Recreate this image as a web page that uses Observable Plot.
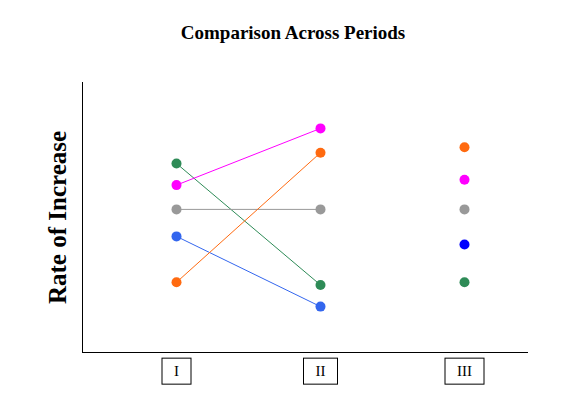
<!DOCTYPE html>
<html>
<head>
<meta charset="utf-8">
<script src="https://cdn.jsdelivr.net/npm/d3@7"></script>
<script src="https://cdn.jsdelivr.net/npm/@observablehq/plot@0.6"></script>
<style>
  html, body { margin: 0; padding: 0; background: #fff; }
  #chart { width: 577px; height: 399px; }
</style>
</head>
<body>
<div id="chart"></div>
<script>
// ---- data ----
const periods = ["I", "II", "III"];
const series = ["green", "magenta", "gray", "blue", "orange"];
const valuesI   = [70, 62, 53, 43, 26];
const valuesII  = [25, 83, 53, 17, 74];
const valuesIII = [26, 64, 53, 40, 76];
const title = "Comparison Across Periods";
const yLabel = "Rate of Increase";

// ---- styles ----
const lineColors = {green: "#2e8b57", magenta: "#ff00ff", gray: "#999999", blue: "#3366ee", orange: "#ff6a10"};
const dotColorsIII = {green: "#2e8b57", magenta: "#ff00ff", gray: "#999999", blue: "#0000ff", orange: "#ff6a10"};

const rows = [];
[valuesI, valuesII, valuesIII].forEach((vals, p) => {
  vals.forEach((v, i) => rows.push({period: periods[p], series: series[i], value: v}));
});
const linked = rows.filter(d => d.period !== "III");

const plot = Plot.plot({
  width: 577,
  height: 399,
  marginTop: 82,
  marginBottom: 47,
  marginLeft: 82,
  marginRight: 50,
  style: {fontFamily: "'Liberation Serif', 'Times New Roman', serif", background: "#fff", color: "#000"},
  x: {type: "point", domain: periods, padding: 0.545, align: 0.6, label: null},
  y: {domain: [0, 100], axis: null},
  marks: [
    Plot.frame({anchor: "left", stroke: "#000"}),
    Plot.frame({anchor: "bottom", stroke: "#000"}),
    Plot.axisX({tickSize: 0, tickPadding: 13, fontSize: 15, label: null}),
    Plot.line(linked, {x: "period", y: "value", z: "series", stroke: d => lineColors[d.series], strokeWidth: 1}),
    Plot.dot(rows, {x: "period", y: "value", r: 5, fill: d => d.period === "III" ? dotColorsIII[d.series] : lineColors[d.series], stroke: "none"}),
    Plot.text([title], {frameAnchor: "top", text: d => d, dy: -50, dx: -12, fontSize: 19, fontWeight: "bold", lineAnchor: "middle", textAnchor: "middle"}),
    Plot.text([yLabel], {frameAnchor: "left", text: d => d, dx: -25, rotate: -90, fontSize: 25, fontWeight: "bold", lineAnchor: "middle", textAnchor: "middle"})
  ]
});
document.getElementById("chart").appendChild(plot);

// boxes around tick labels
d3.select(plot).selectAll('g[aria-label="x-axis tick label"] text').each(function() {
  const bb = this.getBBox();
  const padX = 12, padY = 5;
  d3.select(this.parentNode).insert("rect", () => this)
    .attr("transform", this.getAttribute("transform"))
    .attr("x", bb.x - padX).attr("y", bb.y - padY)
    .attr("width", bb.width + 2 * padX).attr("height", bb.height + 2 * padY)
    .attr("fill", "none").attr("stroke", "#000").attr("stroke-width", 1);
});
</script>
</body>
</html>
